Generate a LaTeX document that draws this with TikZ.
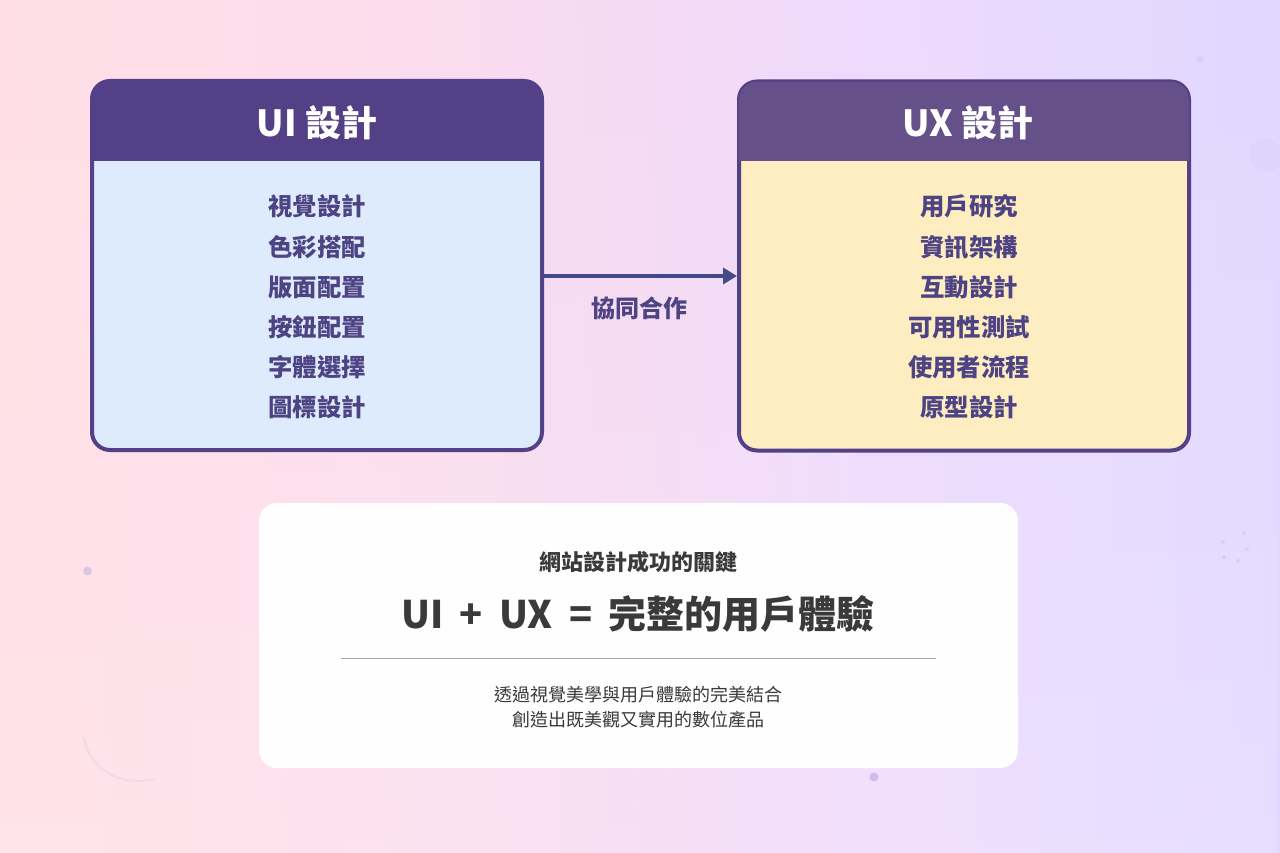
\documentclass[tikz,border=0pt]{standalone}
\usepackage{fontspec}
\setmainfont{Noto Sans CJK TC}
\usetikzlibrary{arrows.meta,fadings}
\definecolor{bgA}{HTML}{FFDFE5}
\definecolor{bgB}{HTML}{FDDDEC}
\definecolor{bgC}{HTML}{F5DAF3}
\definecolor{bgD}{HTML}{EFDAFD}
\definecolor{bgE}{HTML}{E1D8FF}
\definecolor{framepurple}{HTML}{534086}
\definecolor{uxhead}{HTML}{655089}
\definecolor{uibody}{HTML}{DDEBFD}
\definecolor{uxbody}{HTML}{FFEDC2}
\definecolor{itemink}{HTML}{4E4383}
\definecolor{arrowink}{HTML}{434A87}
\definecolor{cardink}{HTML}{3A3A3A}
\definecolor{speck}{HTML}{BDB0E4}
\pgfdeclarehorizontalshading{bgshade}{100bp}{color(0bp)=(bgA); color(25bp)=(bgA); color(38.7bp)=(bgB); color(50bp)=(bgC); color(59bp)=(bgD); color(75bp)=(bgE); color(100bp)=(bgE)}
\tikzset{
  panelbox/.style={draw=framepurple,line width=4pt,rounded corners=18pt,minimum width=450pt,minimum height=369pt,inner sep=0pt},
  headtitle/.style={anchor=base,text=white,font=\bfseries\fontsize{36}{36}\selectfont,inner sep=0pt},
  itemtext/.style={anchor=base,text=itemink,font=\bfseries\fontsize{24.4}{24.4}\selectfont,inner sep=0pt},
  linktext/.style={anchor=base,text=itemink,font=\bfseries\fontsize{24}{24}\selectfont,inner sep=0pt},
  cardlead/.style={anchor=base,text=cardink,font=\bfseries\fontsize{22}{22}\selectfont,inner sep=0pt},
  cardbig/.style={anchor=base,text=cardink,font=\bfseries\fontsize{38}{38}\selectfont,inner sep=0pt},
  cardnote/.style={anchor=base,text=cardink,font=\fontsize{18}{18}\selectfont,inner sep=0pt},
  faintspot/.style={fill=speck,draw=none}
}
\begin{document}
\begin{tikzpicture}[x=1pt,y=-1pt]
\useasboundingbox (0,0) rectangle (1280,853);
\path[shading=bgshade,shading angle=2] (0,0) rectangle (1280,853);
\fill[white,path fading=north,fill opacity=.16] (0,0) rectangle (1280,853);
% faint background specks
\fill[faintspot,opacity=.55] (87.5,571) circle (4.5pt);
\fill[faintspot,opacity=.22] (1200,59) circle (3.5pt);
\fill[faintspot,opacity=.7] (874,777) circle (4.5pt);
\fill[faintspot,opacity=.08] (1266,155) circle (17pt);
\fill[faintspot,opacity=.3] (1244,533) circle (2pt) (1223,542) circle (2pt) (1247,549) circle (2pt) (1224,557) circle (2pt) (1238,561) circle (2pt);
\draw[speck,opacity=.18,line width=2pt,line cap=round] (84,738) .. controls (90,770) and (120,787) .. (155,779);
% panels
\node[panelbox,fill=uibody] (uibox) at (317,265.5) {};
\node[panelbox,fill=uxbody] (uxbox) at (964,266) {};
\fill[framepurple] (92,161) -- (92,99) arc[start angle=180,end angle=270,radius=18] -- (524,81) arc[start angle=270,end angle=360,radius=18] -- (542,161) -- cycle;
\fill[uxhead] (739,161) -- (739,100) arc[start angle=180,end angle=270,radius=18] -- (1171,82) arc[start angle=270,end angle=360,radius=18] -- (1189,161) -- cycle;
\node[headtitle] (uititle) at (317,137) {UI 設計};
\node[headtitle] (uxtitle) at (968,137) {UX 設計};
\foreach \n/\t [count=\i from 0] in {a/視覺設計,b/色彩搭配,c/版面配置,d/按鈕配置,e/字體選擇,f/圖標設計}
  \node[itemtext] (ui\n) at (317,216+40*\i) {\t};
\foreach \n/\t [count=\i from 0] in {a/用戶研究,b/資訊架構,c/互動設計,d/可用性測試,e/使用者流程,f/原型設計}
  \node[itemtext] (ux\n) at (969,216+40*\i) {\t};
% connector
\draw[arrowink,line width=4pt,-{Triangle[length=14pt,width=16pt]}] ([yshift=-10.5pt]uibox.east) -- ([yshift=-10pt]uxbox.west);
\node[linktext] (collab) at (639.5,317) {協同合作};
% summary card
\node[fill=white,fill opacity=.98,rounded corners=18pt,minimum width=759pt,minimum height=265pt,inner sep=0pt,draw=none] (card) at (638.5,635.5) {};
\node[cardlead] (lead) at (638.5,570) {網站設計成功的關鍵};
\node[cardbig] (big) at (638,628) {UI\hspace{16.3pt}+\hspace{16.3pt}UX\hspace{16.3pt}=\hspace{16.3pt}完整的用戶體驗};
\coordinate (ruleL) at (341,658);
\coordinate (ruleR) at (936,658);
\draw[color=black!35,line width=1pt] (ruleL) -- (ruleR);
\node[cardnote] (noteA) at (638,701) {透過視覺美學與用戶體驗的完美結合};
\node[cardnote] (noteB) at (638,726) {創造出既美觀又實用的數位產品};
\end{tikzpicture}
\end{document}
